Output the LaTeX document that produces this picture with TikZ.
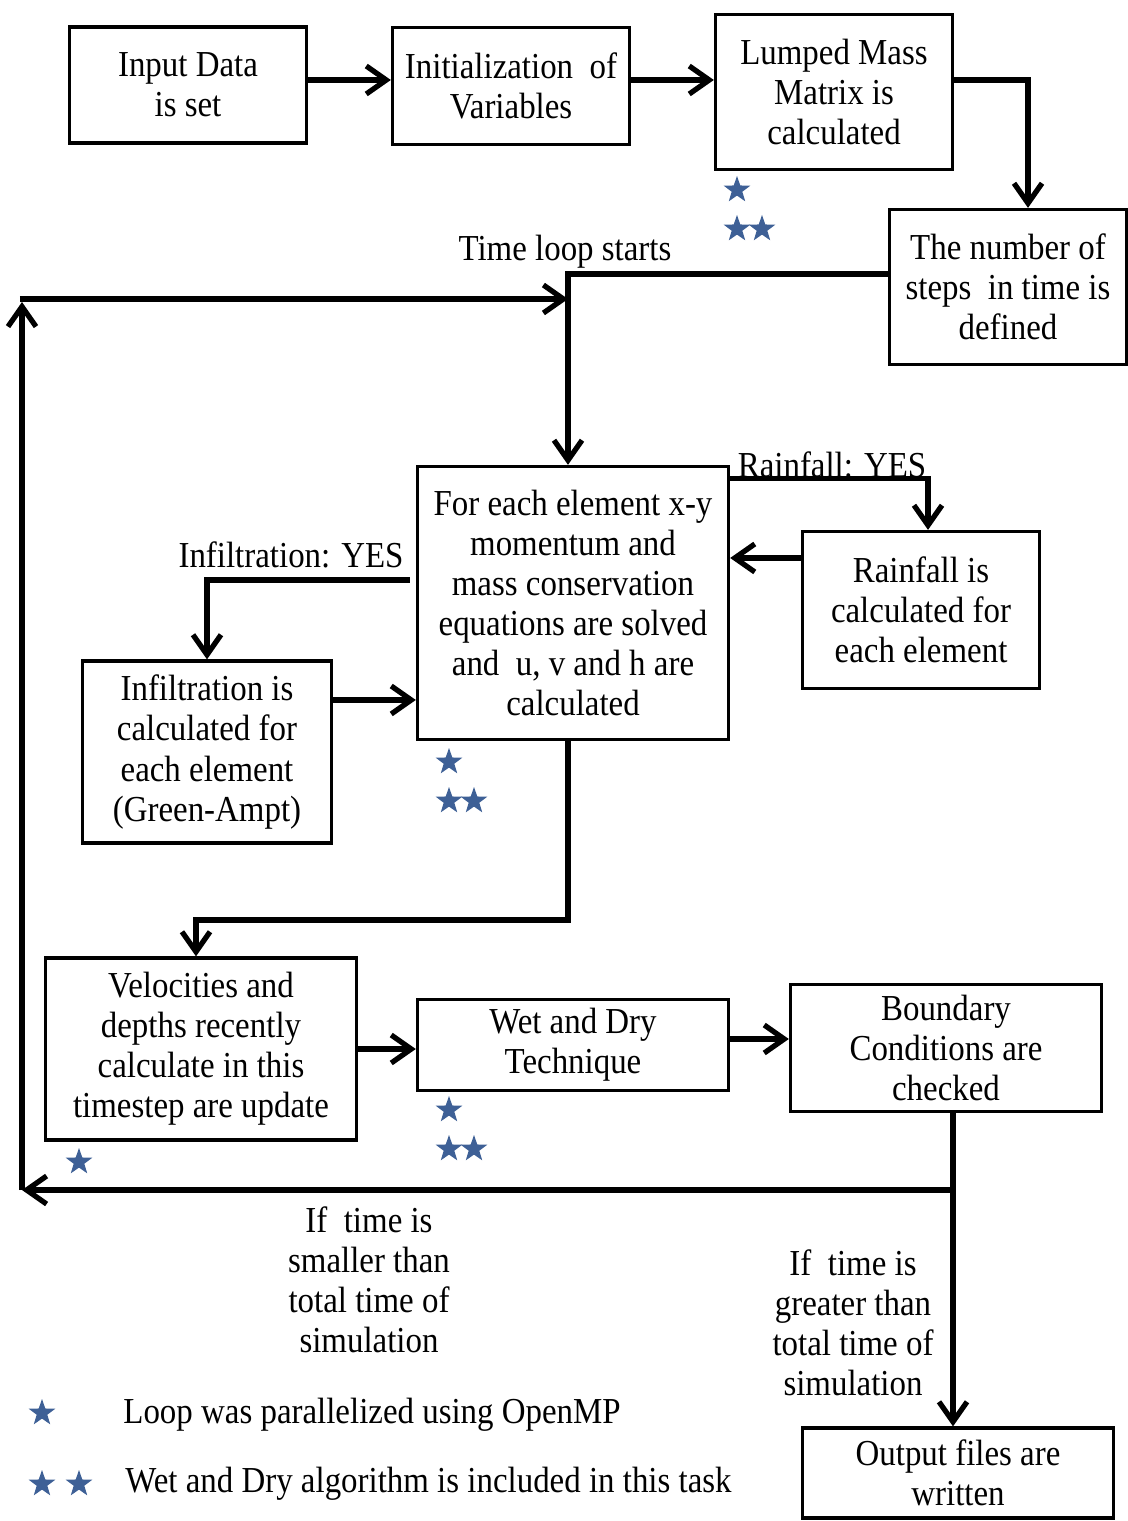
\documentclass[tikz,border=0pt]{standalone}
\usepackage{fontspec}
\setmainfont{Liberation Serif}[FakeStretch=0.9]
\usepackage{tikz}
\usetikzlibrary{arrows.meta, shapes.geometric}
\definecolor{starblue}{RGB}{62, 96, 150}

\begin{document}
\begin{tikzpicture}[x=0.01cm, y=-0.01cm,
		every node/.style={font=\fontsize{10.4}{11.4}\selectfont},
		box/.style={draw, line width=0.9pt, align=center, inner sep=0pt},
		link/.style={line width=1.5pt},
		flow/.style={line width=1.5pt, -{Straight Barb[length=2mm, width=2.8mm]}},
		starmark/.style={star, star points=5, star point ratio=2.5, fill=starblue, inner sep=0pt, minimum size=0.28cm}]
		\useasboundingbox (0,0) rectangle (1128,1521);
		
		% --- boxes ---
		\node[box, minimum width=2.37cm, minimum height=1.16cm] (input) at (188,85) {Input Data\\is set};
		\node[box, minimum width=2.37cm, minimum height=1.17cm] (init) at (511,86) {Initialization\ \ of\\Variables};
		\node[box, minimum width=2.37cm, minimum height=1.55cm] (lumped) at (834,92) {Lumped Mass\\Matrix is\\calculated};
		\node[box, minimum width=2.37cm, minimum height=1.55cm] (steps) at (1008,287) {The number of\\steps\ \ in time is\\defined};
		\node[box, minimum width=3.11cm, minimum height=2.73cm] (main) at (573,603) {For each element x-y\\momentum and\\mass conservation\\equations are solved\\and\ \ u, v and h are\\calculated};
		\node[box, minimum width=2.37cm, minimum height=1.57cm] (rain) at (921,610) {Rainfall is\\calculated for\\each element};
		\node[box, minimum width=2.49cm, minimum height=1.82cm] (infil) at (207,752) {Infiltration is\\calculated for\\each element\\(Green-Ampt)};
		\node[box, minimum width=3.11cm, minimum height=1.82cm] (vel) at (201,1049) {Velocities and\\depths recently\\calculate in this\\timestep are update};
		\node[box, minimum width=3.11cm, minimum height=0.91cm] (wet) at (573,1045) {Wet and Dry\\Technique};
		\node[box, minimum width=3.11cm, minimum height=1.27cm] (bound) at (946,1048) {Boundary\\Conditions are\\checked};
		\node[box, minimum width=3.11cm, minimum height=0.90cm] (out) at (958,1473) {Output files are\\written};
		
		% --- labels ---
		\node (tloop) at (565,252) {Time loop starts};
		\node (rainyes) at (832,465) {Rainfall: YES};
		\node (infyes) at (291,555) {Infiltration: YES};
		\node[align=center] (smaller) at (369,1280) {If\ \ time is\\smaller than\\total time of\\simulation};
		\node[align=center] (greater) at (853,1323) {If\ \ time is\\greater than\\total time of\\simulation};
		
		% --- stars ---
		\node[starmark] (lm1) at (737,190) {};
		\node[starmark] (lm2a) at (737,229) {};
		\node[starmark] (lm2b) at (762,229) {};
		\node[starmark] (mn1) at (449,762) {};
		\node[starmark] (mn2a) at (449,801) {};
		\node[starmark] (mn2b) at (474,801) {};
		\node[starmark] (wt1) at (449,1110) {};
		\node[starmark] (wt2a) at (449,1149) {};
		\node[starmark] (wt2b) at (474,1149) {};
		\node[starmark] (vl1) at (79,1162) {};
		
		% --- legend ---
		\node[starmark] (lg1) at (42,1413) {};
		\node[starmark] (lg2a) at (42,1484) {};
		\node[starmark] (lg2b) at (79,1484) {};
		\node[anchor=west] (leg1) at (111,1415) {Loop was parallelized using OpenMP};
		\node[anchor=west] (leg2) at (113,1484) {Wet and Dry algorithm is included in this task};
		
		% --- turning points ---
		\coordinate (tl) at (568,274);
		\coordinate (vturn) at (568,920);
		\coordinate (lb) at (953,1190);
		\coordinate (lc) at (22,1190);
		\coordinate (lt) at (22,299);
		
		% --- connectors ---
		\draw[flow] ([yshift=0.05cm]input.east) -- ([yshift=0.05cm]input.east -| init.west);
		\draw[flow] ([yshift=0.06cm]init.east) -- ([yshift=0.06cm]init.east -| lumped.west);
		\draw[flow] ([yshift=0.12cm]lumped.east) -| ([xshift=0.2cm]steps.north);
		\draw[flow] (steps.west |- tl) -- (tl) -- (tl |- main.north);
		\draw[flow] ([yshift=-0.14cm]main.north east) -| ([xshift=0.07cm]rain.north);
		\draw[flow] ([yshift=0.52cm]rain.west) -- ([yshift=0.52cm]rain.west -| main.east);
		\draw[flow] ([xshift=-0.06cm, yshift=0.23cm]main.west) -| (infil.north);
		\draw[flow] ([yshift=0.52cm]infil.east) -- ([yshift=0.52cm]infil.east -| main.west);
		\draw[flow] (vturn |- main.south) -- (vturn) -| ([xshift=-0.05cm]vel.north);
		\draw[flow] (vel.east) -- (vel.east -| wet.west);
		\draw[flow] ([yshift=0.06cm]wet.east) -- ([yshift=0.06cm]wet.east -| bound.west);
		\draw[flow] (lb |- bound.south) -- (lb |- out.north);
		\draw[flow] (lb) -- (lc);
		\draw[flow] (lc) -- ([yshift=-0.03cm]lt);
		\draw[flow] ([xshift=-0.02cm]lt) -- (lt -| tl);
		
	\end{tikzpicture}
\end{document}
